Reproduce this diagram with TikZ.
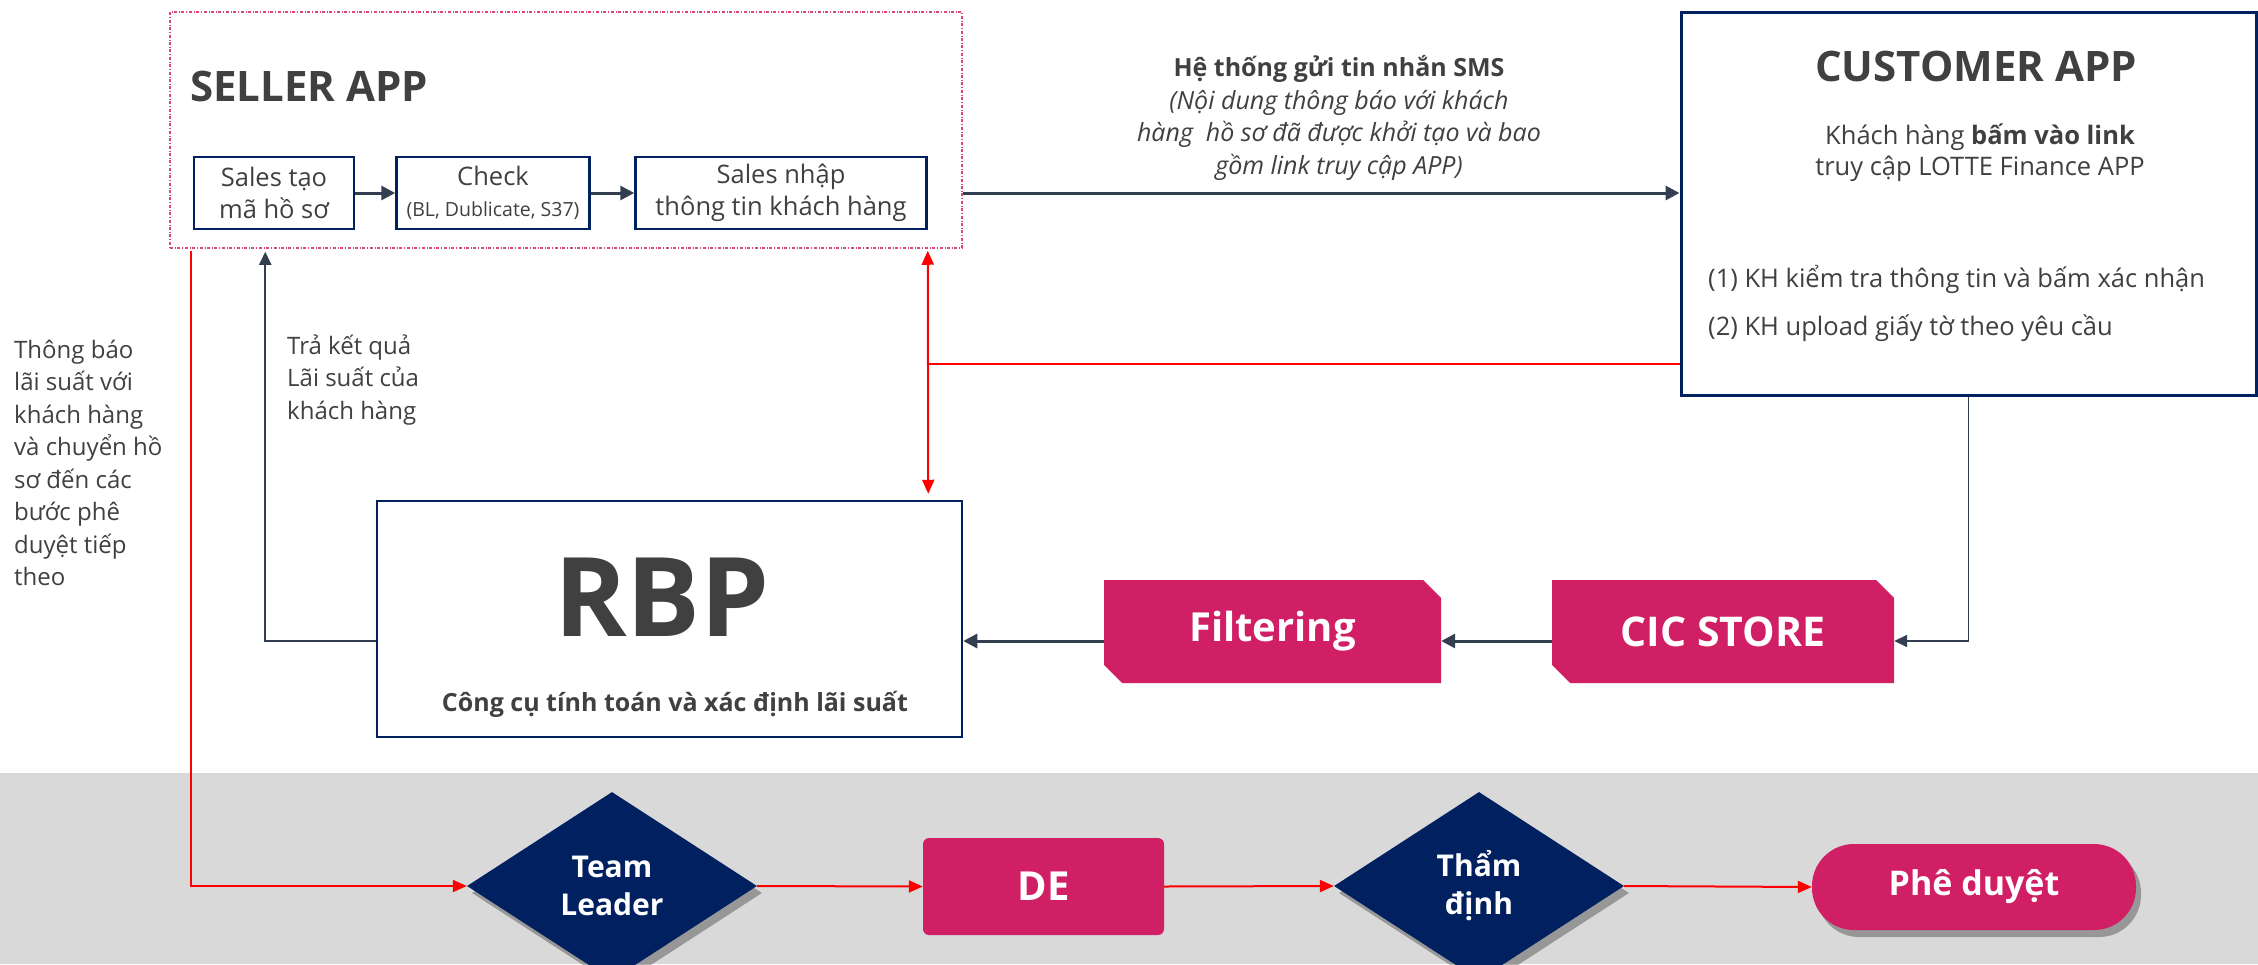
\documentclass[tikz,border=0pt]{standalone}
\usepackage{fontspec}
\setmainfont{Open Sans}
\usetikzlibrary{arrows.meta,shapes.geometric,calc,shadows}
\definecolor{navy}{HTML}{002060}
\definecolor{mag}{HTML}{D11F65}
\definecolor{txt}{HTML}{404040}
\definecolor{conn}{HTML}{333F50}
\definecolor{band}{HTML}{D9D9D9}
\definecolor{dashc}{HTML}{E0457A}
\newcommand{\fs}[2]{\fontsize{#1}{#2}\selectfont}
\begin{document}
\begin{tikzpicture}[x=1pt,y=-1pt,
  box/.style={draw=navy, line width=2.5pt, fill=white, text=txt, align=center, inner sep=0pt},
  arr/.style={draw=conn, line width=3pt, -{Triangle[length=14pt,width=14pt]}},
  thinarr/.style={draw=conn, line width=1.8pt, -{Triangle[length=13pt,width=12pt]}},
  redarr/.style={draw=red, line width=2pt, -{Triangle[length=14pt,width=12pt]}},
  redboth/.style={draw=red, line width=2pt, {Triangle[length=14pt,width=12pt]}-{Triangle[length=14pt,width=12pt]}},
  lbl/.style={text=txt, inner sep=0pt},
  magtxt/.style={text=white, font=\bfseries\fs{40}{48}},
  dia/.style={diamond, fill=navy, aspect=1.55, inner sep=0pt, text=white, align=center,
     font=\bfseries\fs{30}{38}, minimum width=290pt, minimum height=188pt,
     drop shadow={shadow xshift=5pt, shadow yshift=-7pt, opacity=0.3, fill=black}},
]
\useasboundingbox (0,0) rectangle (2258,964);
\fill[white] (0,0) rectangle (2258,964);
\fill[band] (0,773) rectangle (2258,964);

% Seller app
\node[draw=dashc, dash dot, line width=1.5pt, minimum width=792pt, minimum height=236pt, inner sep=0pt] (seller) at (566,130) {};
\node[lbl, anchor=west, font=\bfseries\fs{42}{50}] (sellert) at (190,86) {SELLER APP};
\node[box, minimum width=160pt, minimum height=72pt, font=\fs{25.5}{32}] (b1) at (274,193) {Sales tạo\\mã hồ sơ};
\node[box, minimum width=193pt, minimum height=72pt, font=\fs{25.5}{31}] (b2) at (493,193) {Check\\{\fs{19.5}{23}(BL, Dublicate, S37)}};
\node[box, minimum width=291pt, minimum height=72pt, font=\fs{25.5}{32}] (b3) at (781,193) {Sales nhập\\thông tin khách hàng};
\draw[arr] (b1) -- (b2);
\draw[arr] (b2) -- (b3);

% Customer app
\node[box, line width=3pt, minimum width=575pt, minimum height=383pt] (cust) at (1968.5,203.5) {};
\node[lbl, font=\bfseries\fs{42}{50}] (ct) at (1976,66) {CUSTOMER APP};
\node[lbl, align=center, font=\fs{25.5}{31}] (ck) at (1980,153) {Khách hàng \textbf{bấm vào link}\\truy cập LOTTE Finance APP};
\node[lbl, anchor=west, font=\fs{25.5}{31}] (c1) at (1708,279) {(1) KH kiểm tra thông tin và bấm xác nhận};
\node[lbl, anchor=west, font=\fs{25.5}{31}] (c2) at (1708,328) {(2) KH upload giấy tờ theo yêu cầu};

% SMS arrow
\draw[arr] (seller.east |- b3.east) -- (cust.west |- b3.east);
\node[lbl, align=center, font=\fs{25}{32.5}] (sms) at (1339,118) {\textbf{Hệ thống gửi tin nhắn SMS}\\\textit{(Nội dung thông báo với khách}\\\textit{hàng\ \ hồ sơ đã được khởi tạo và bao}\\\textit{gồm link truy cập APP)}};

% RBP
\node[box, minimum width=585pt, minimum height=236pt] (rbp) at (669.5,619) {};
\node[lbl, font=\bfseries\fs{110}{120}] (rbpt) at (662,597) {RBP};
\node[lbl, font=\bfseries\fs{25}{30}] (rbps) at (675,704) {Công cụ tính toán và xác định lãi suất};

% Filtering and CIC
\fill[mag] (1104,580) -- (1423,580) -- (1441,598) -- (1441,683) -- (1122,683) -- (1104,665) -- cycle;
\node[magtxt, minimum width=337pt, minimum height=103pt, inner sep=0pt] (filt) at (1272.5,631.5) {Filtering};
\fill[mag] (1552,580) -- (1876,580) -- (1894,598) -- (1894,683) -- (1570,683) -- (1552,665) -- cycle;
\node[magtxt, font=\bfseries\fs{41}{48}, minimum width=342pt, minimum height=103pt, inner sep=0pt] (cic) at (1723,631.5) {CIC STORE};

\coordinate (rowy) at (0,641);
\draw[thinarr] (cust.south) |- (cic.east |- rowy);
\draw[arr] (cic.west |- rowy) -- (filt.east |- rowy);
\draw[arr] (filt.west |- rowy) -- (rbp.east |- rowy);
\coordinate (up) at ($(seller.south west)+(96,3)$);
\draw[thinarr] (rbp.west |- rowy) -| (up);
\node[lbl, anchor=west, align=left, font=\fs{24}{32.5}] (tra) at (287,380) {Trả kết quả\\Lãi suất của\\khách hàng};

% red links
\coordinate (rv) at ($(seller.south east)+(-35,2)$);
\coordinate (rvb) at ($(rbp.north east)+(-35,-6)$);
\draw[redboth] (rv) -- (rvb);
\coordinate (redy) at (0,364);
\draw[draw=red, line width=1.5pt] (cust.west |- redy) -- (rv |- redy);

\node[lbl, anchor=west, align=left, font=\fs{24}{32.5}] (lt) at (14,463) {Thông báo\\lãi suất với\\khách hàng\\và chuyển hồ\\sơ đến các\\bước phê\\duyệt tiếp\\theo};

% bottom row
\node[dia] (tl) at (612,886) {Team\\Leader};
\node[fill=mag, rounded corners=6pt, minimum width=241pt, minimum height=97pt, inner sep=0pt, magtxt] (de) at (1043.5,886.5) {DE};
\node[dia] (td) at (1479,886) {Thẩm\\định};
\node[fill=mag, rounded corners=42pt, minimum width=324pt, minimum height=86pt, inner sep=0pt, text=white, font=\bfseries\fs{34}{40},
  drop shadow={shadow xshift=5pt, shadow yshift=-7pt, opacity=0.3, fill=black}] (pd) at (1974,887) {Phê duyệt};

\coordinate (lstart) at ($(seller.south west)+(22,2)$);
\draw[redarr] (lstart) |- (tl.west);
\draw[redarr] (tl.east) -- (de.west);
\draw[redarr] (de.east) -- (td.west);
\draw[redarr] (td.east) -- (pd.west);
\end{tikzpicture}
\end{document}
